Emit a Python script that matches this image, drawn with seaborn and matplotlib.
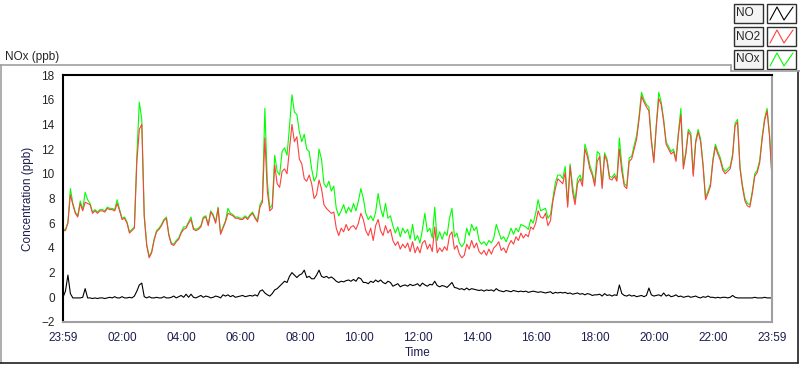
import numpy as np
import pandas as pd
import matplotlib
matplotlib.use("Agg")
import matplotlib.pyplot as plt
from matplotlib.lines import Line2D
from matplotlib.patches import Rectangle
import seaborn as sns

# one reading every 5 minutes, starting 23:59 the day before
step_min = 5

no = [
    0.0, 0.5, 1.8, 0.3, -0.05, -0.05, -0.05, -0.05, 0.0, 0.7,
    -0.05, -0.05, -0.1, -0.05, -0.1, -0.05, -0.05, -0.1, -0.05, 0.0,
    -0.05, 0.05, -0.05, -0.05, 0.05, -0.05, -0.05, 0.0, -0.05, 0.1,
    0.5, 1.0, 1.15, 0.05, -0.05, 0.05, -0.05, -0.05, 0.0, -0.05,
    -0.05, 0.05, -0.05, -0.05, 0.0, 0.1, -0.05, 0.05, 0.15, 0.0,
    0.25, 0.0, 0.25, 0.0, -0.05, 0.05, 0.15, 0.0, 0.1, 0.05,
    -0.05, 0.0, 0.1, 0.05, -0.05, 0.2, 0.1, 0.2, 0.05, 0.15,
    0.0, 0.05, 0.1, 0.15, 0.05, 0.1, 0.15, 0.1, 0.2, 0.1,
    0.5, 0.6, 0.35, 0.2, 0.1, 0.3, 0.6, 0.7, 0.9, 1.1,
    1.3, 1.2, 1.7, 2.0, 1.8, 1.6, 1.8, 1.9, 2.2, 1.6,
    1.7, 1.5, 1.5, 1.8, 2.2, 1.7, 1.6, 1.7, 1.55, 1.65,
    1.5, 1.3, 1.2, 1.3, 1.25, 1.35, 1.4, 1.3, 1.45, 1.3,
    1.6, 1.5, 1.2, 1.2, 1.1, 1.3, 1.2, 1.4, 1.25, 1.4,
    1.2, 1.1, 1.3, 1.2, 0.9, 1.0, 1.1, 0.85, 0.95, 1.0,
    0.9, 1.05, 0.95, 1.0, 1.1, 0.9, 1.15, 1.0, 0.9, 1.05,
    1.0, 1.3, 0.95, 0.85, 0.95, 0.9, 0.8, 1.0, 1.2, 0.8,
    0.75, 0.65, 0.7, 0.6, 0.75, 0.6, 0.7, 0.65, 0.6, 0.55,
    0.6, 0.5, 0.6, 0.55, 0.6, 0.5, 0.7, 0.55, 0.5, 0.45,
    0.55, 0.5, 0.45, 0.55, 0.5, 0.45, 0.5, 0.45, 0.5, 0.4,
    0.45, 0.5, 0.45, 0.4, 0.45, 0.4, 0.35, 0.4, 0.45, 0.3,
    0.4, 0.35, 0.4, 0.35, 0.4, 0.3, 0.35, 0.25, 0.3, 0.35,
    0.25, 0.3, 0.2, 0.3, 0.25, 0.15, 0.2, 0.2, 0.25, 0.1,
    0.3, 0.15, 0.2, 0.1, 0.2, 0.15, 1.0, 0.3, 0.15, 0.1,
    0.2, 0.1, 0.15, 0.05, 0.1, 0.15, 0.05, 0.15, 0.75, 0.2,
    0.1, 0.15, 0.2, 0.1, 0.35, 0.1, 0.2, 0.05, 0.1, 0.2,
    0.05, 0.1, 0.0, 0.05, 0.1, 0.0, 0.05, 0.1, 0.0, -0.05,
    0.05, 0.0, 0.1, 0.0, 0.0, -0.05, 0.0, -0.05, 0.0, 0.0,
    -0.05, 0.0, 0.15, 0.0, -0.05, -0.05, -0.05, -0.05, -0.05, -0.05,
    -0.05, 0.0, -0.05, -0.05, -0.05, 0.0, -0.05, -0.05, -0.05,
]

no2 = [
    5.4, 5.4, 6.0, 8.3, 7.5, 6.8, 6.5, 7.6, 7.0, 7.7,
    7.6, 7.5, 6.8, 7.0, 6.8, 7.0, 7.0, 6.9, 7.2, 7.1,
    7.1, 7.0, 7.6, 7.0, 6.3, 6.4, 6.0, 5.2, 5.4, 5.6,
    11.0, 13.6, 14.0, 6.5, 4.2, 3.2, 3.6, 4.6, 5.3, 5.5,
    5.8, 6.2, 6.4, 5.0, 4.3, 4.2, 4.5, 4.7, 5.2, 5.5,
    5.6, 6.0, 6.3, 5.5, 5.4, 5.5, 5.7, 6.4, 6.5, 5.8,
    6.9, 6.6, 6.0, 7.2, 5.1, 5.6, 6.1, 6.8, 6.7, 6.6,
    6.4, 6.4, 6.3, 6.3, 6.5, 6.3, 6.6, 6.8, 6.4, 6.1,
    7.3, 7.7, 12.9, 8.6, 7.0, 7.2, 10.7, 9.2, 8.9, 10.2,
    10.4, 10.0, 12.0, 14.0, 12.6, 13.0, 11.2, 10.8, 9.6, 9.4,
    9.9, 9.2, 8.0, 8.3, 9.5, 8.8, 7.5, 7.2, 7.0, 6.8,
    6.9, 5.6, 5.0, 5.6, 5.3, 5.9, 5.4, 5.7, 5.8, 5.5,
    6.0, 6.8, 6.3, 5.4, 5.0, 5.6, 4.6, 5.8, 6.3, 5.4,
    5.0, 5.8, 5.2, 5.5, 4.6, 4.2, 4.5, 3.9, 4.3, 4.0,
    4.4, 3.7, 4.5, 3.6, 4.1, 3.6, 4.4, 4.6, 3.9, 4.3,
    3.7, 5.7, 3.6, 4.0, 3.7, 4.1, 3.8, 5.0, 5.3, 3.9,
    4.2, 3.5, 3.2, 3.4, 4.3, 3.9, 4.6, 4.0, 4.4, 3.7,
    3.5, 3.8, 3.4, 3.9, 3.5, 4.0, 4.2, 4.5, 3.8, 4.0,
    3.6, 4.2, 4.6, 4.3, 4.9, 4.6, 5.2, 4.8, 5.1, 4.9,
    5.7, 5.5, 6.0, 7.0, 6.5, 6.4, 6.8, 5.8, 6.2, 7.8,
    8.8, 9.6, 9.4, 9.2, 10.1, 7.3, 10.6, 8.5, 7.5, 9.2,
    9.6, 9.0, 12.0, 11.4, 10.4, 9.9, 9.0, 11.0, 11.4, 8.8,
    11.5, 11.0, 9.6, 9.5, 9.8, 9.4, 12.0, 10.2, 9.0, 8.8,
    11.0, 11.2, 12.0, 12.8, 14.4, 16.3, 15.8, 15.4, 15.1, 12.6,
    10.9, 13.8, 16.1, 15.6, 14.2, 12.4, 12.0, 11.6, 11.8, 11.0,
    13.2, 14.8, 10.4, 11.6, 13.4, 13.1, 9.8, 12.5, 13.4, 12.6,
    10.6, 7.9, 8.4, 9.0, 11.0, 12.2, 11.6, 11.1, 10.3, 10.0,
    10.2, 10.4, 11.4, 13.9, 14.2, 10.4, 8.9, 7.8, 7.4, 7.3,
    8.4, 9.8, 10.1, 10.9, 12.8, 14.3, 15.1, 13.0, 9.6,
]

nox = [
    5.5, 5.5, 6.1, 8.8, 7.6, 6.9, 6.6, 7.8, 7.1, 8.5,
    7.9, 7.6, 6.9, 7.1, 6.9, 7.1, 7.1, 7.0, 7.3, 7.2,
    7.2, 7.1, 7.9, 7.1, 6.4, 6.5, 6.1, 5.3, 5.5, 5.7,
    11.5, 15.8, 14.4, 6.7, 4.3, 3.3, 3.7, 4.7, 5.4, 5.6,
    5.9, 6.3, 6.5, 5.1, 4.4, 4.3, 4.6, 4.8, 5.3, 5.7,
    5.7, 6.1, 6.5, 5.6, 5.5, 5.6, 5.8, 6.5, 6.6, 5.9,
    7.0, 6.7, 6.1, 7.3, 5.2, 5.7, 6.2, 7.2, 6.8, 6.7,
    6.5, 6.5, 6.4, 6.4, 6.6, 6.4, 6.7, 6.9, 6.5, 6.2,
    7.5, 7.9, 15.3, 9.4, 7.2, 7.5, 11.5, 10.2, 9.9, 11.8,
    12.1, 11.5, 13.8, 16.4, 15.0, 14.8, 13.4, 12.6, 13.2, 12.0,
    11.8, 10.4, 9.4, 9.8, 12.0, 11.2, 9.2, 8.9, 9.4, 8.6,
    9.0, 7.2, 6.6, 7.0, 7.5, 6.8, 7.3, 6.9, 7.6, 7.0,
    7.8, 8.8, 8.0, 6.8, 6.3, 6.6, 6.2, 6.9, 8.4, 7.2,
    6.5, 7.6, 6.4, 6.6, 5.8, 5.2, 5.7, 4.9, 5.6, 5.2,
    5.5, 4.7, 5.9, 4.6, 5.0, 4.4, 5.5, 6.8, 5.3, 5.6,
    4.8, 7.3, 4.6, 5.3, 4.7, 5.3, 5.0, 6.4, 7.2, 4.9,
    5.2, 4.4, 4.1, 4.4, 5.6, 5.0, 5.9, 5.4, 5.7, 4.6,
    4.3, 4.5, 4.2, 4.6, 4.4, 4.8, 5.9, 5.3, 4.7, 4.9,
    4.5, 5.0, 5.6, 5.1, 5.6, 5.3, 5.9, 5.8, 5.7, 5.5,
    6.3, 6.0, 6.8, 7.9, 7.0, 7.1, 7.2, 6.4, 6.7, 8.0,
    9.3, 9.9, 9.9, 9.6, 10.6, 7.5, 10.8, 9.0, 7.8, 9.6,
    9.9, 9.3, 12.4, 11.7, 10.7, 10.1, 9.3, 11.8, 11.6, 9.0,
    11.7, 11.2, 9.8, 9.7, 10.0, 9.6, 12.9, 10.7, 9.2, 9.0,
    11.3, 11.4, 12.3, 13.1, 14.7, 16.6, 16.0, 15.6, 15.4, 12.8,
    11.1, 14.0, 16.6, 15.8, 14.4, 12.6, 12.2, 11.8, 12.0, 11.2,
    13.4, 15.3, 10.6, 11.8, 13.6, 13.3, 10.0, 12.7, 13.6, 12.8,
    10.8, 8.1, 8.6, 9.2, 11.2, 12.4, 11.8, 11.3, 10.5, 10.2,
    10.4, 10.6, 11.6, 14.1, 14.4, 10.6, 9.1, 8.0, 7.6, 7.5,
    8.6, 10.0, 10.3, 11.1, 13.0, 14.5, 15.3, 13.2, 9.8,
]

tick_minutes = [-1, 120, 240, 360, 480, 600, 720, 840, 960, 1080, 1200, 1320, 1439]
tick_labels = ["23:59", "02:00", "04:00", "06:00", "08:00", "10:00", "12:00",
               "14:00", "16:00", "18:00", "20:00", "22:00", "23:59"]
legend_names = ["NO", "NO2", "NOx"]
legend_colors = ["black", "#ff4040", "#00ff00"]

minutes = np.arange(len(no2)) * step_min - 1
df = pd.DataFrame({"minute": minutes, "NO": no, "NO2": no2, "NOx": nox})

sns.set_style("white")
plt.rcParams["font.family"] = ["Liberation Sans", "DejaVu Sans"]

W, H = 800, 365
fig = plt.figure(figsize=(W / 100, H / 100), dpi=100)


def fx(x):
    return x / W


def fy(y):
    return 1 - y / H


ax = fig.add_axes([fx(63), fy(322), (772 - 63) / W, (322 - 75) / H])

# NOx under NO2, NO on top
sns.lineplot(data=df, x="minute", y="NOx", color="#00ff00", lw=0.8, ax=ax)
sns.lineplot(data=df, x="minute", y="NO2", color="#ff4040", lw=0.8, ax=ax)
sns.lineplot(data=df, x="minute", y="NO", color="black", lw=0.8, ax=ax)

ax.set_xlim(-1, 1439)
ax.set_ylim(-2, 18)
ax.set_yticks(range(-2, 19, 2))
ax.set_xticks(tick_minutes)
ax.set_xticklabels(tick_labels)
ax.set_xticks([m for m in range(15, 1439, 15) if m % 120 != 0], minor=True)
ax.tick_params(axis="both", which="major", direction="out", length=4, width=1,
               color="black", labelsize=8.5, pad=2)
ax.tick_params(axis="x", which="major", length=5, labelcolor="#1c1c50")
ax.tick_params(axis="x", which="minor", direction="out", length=3, width=1, color="black")
ax.set_xlabel("Time", fontsize=8.5, color="#1c1c50", labelpad=2)
ax.set_ylabel("Concentration (ppb)", fontsize=8.5, color="#1c1c50", labelpad=5)

for side in ["top", "left"]:
    ax.spines[side].set_color("black")
    ax.spines[side].set_linewidth(1.5)
for side in ["right", "bottom"]:
    ax.spines[side].set_color("#a0a0a0")
    ax.spines[side].set_linewidth(1.5)

# panel frame
frame = dict(transform=fig.transFigure, lw=1.2)
fig.add_artist(Line2D([fx(0), fx(731)], [fy(65), fy(65)], color="#a0a0a0", **frame))
fig.add_artist(Line2D([fx(0.8), fx(0.8)], [fy(65), fy(363)], color="#a0a0a0", **frame))
fig.add_artist(Line2D([fx(0), fx(798)], [fy(363), fy(363)], color="#202020", **frame))
fig.add_artist(Line2D([fx(797.5), fx(797.5)], [fy(71), fy(363)], color="#202020", **frame))
fig.add_artist(Line2D([fx(731), fx(731)], [fy(65), fy(71)], color="#a0a0a0", **frame))
fig.add_artist(Line2D([fx(731), fx(800)], [fy(71), fy(71)], color="#a0a0a0", **frame))

fig.text(fx(5), fy(57), "NOx (ppb)", fontsize=8.5, va="center", ha="left")

# legend boxes
for k, (name, col) in enumerate(zip(legend_names, legend_colors)):
    top = 4 + 23 * k
    h = 19
    fig.add_artist(Rectangle((fx(734), fy(top + h)), 29 / W, h / H, transform=fig.transFigure,
                             facecolor="#f4f4f4", edgecolor="#303030", lw=1))
    fig.add_artist(Rectangle((fx(767), fy(top + h)), 29 / W, h / H, transform=fig.transFigure,
                             facecolor="white", edgecolor="#303030", lw=1))
    fig.text(fx(736), fy(top + h / 2), name, fontsize=8.5, va="center", ha="left")
    zx = [770, 777, 784, 793]
    zy = [top + h - 3, top + 3, top + h - 3, top + 3]
    fig.add_artist(Line2D([fx(v) for v in zx], [fy(v) for v in zy], color=col, lw=0.8,
                          transform=fig.transFigure))

fig.savefig("out.png", dpi=100)
